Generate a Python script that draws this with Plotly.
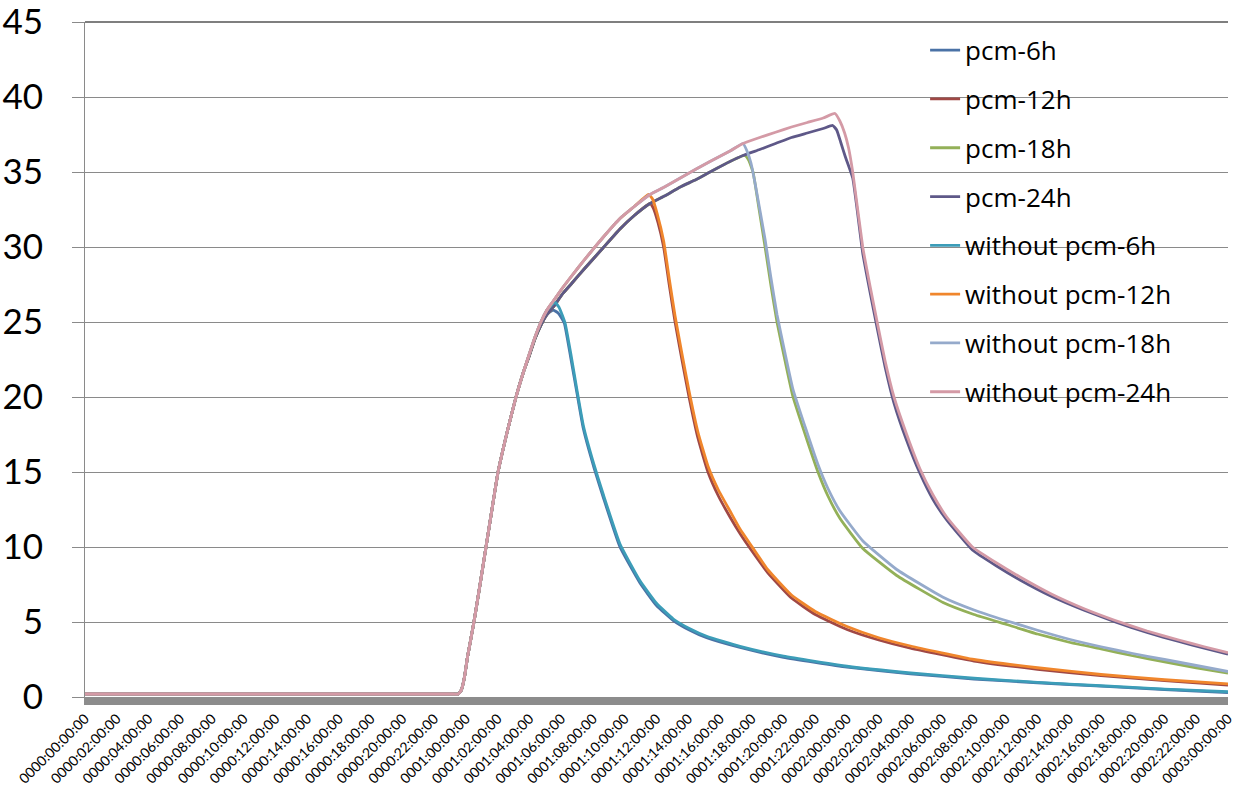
import plotly.graph_objects as go

# ---------------- data (hours from start, temperature values) ----------------
# common heating rise
rise_t = [0, 6, 12, 18, 22.5, 23.2, 23.5, 23.7, 23.9, 24.1, 24.5, 24.9, 25.26, 25.65, 26.02, 26.6, 27.15, 27.6, 28.0, 28.35, 28.72, 29.1]
rise_wo = [0.2, 0.2, 0.2, 0.2, 0.2, 0.2, 0.2, 0.45, 1.3, 2.7, 5.0, 7.6, 10.0, 12.6, 15.0, 17.7, 20.0, 21.6, 22.9, 24.0, 25.0, 25.8]
rise_pcm = [0.2, 0.2, 0.2, 0.2, 0.2, 0.2, 0.2, 0.45, 1.3, 2.7, 5.0, 7.6, 10.0, 12.6, 15.0, 17.7, 20.0, 21.6, 22.8, 23.9, 24.8, 25.5]

# continued heating (upper envelope) for the longer runs
heat_t = [29.5, 30.1, 30.68, 31.5, 32.6, 33.7, 34.6, 35.59, 36.5, 37.5, 38.5, 39.37, 40.63, 41.45, 42.5, 43.5, 44.5, 45.5, 46.5]
heat_wo = [26.4, 27.3, 28.1, 29.2, 30.6, 31.9, 32.7, 33.5, 34.0, 34.6, 35.2, 35.7, 36.4, 36.9, 37.3, 37.65, 38.0, 38.3, 38.6]
heat_pcm = [26.0, 26.9, 27.6, 28.6, 29.9, 31.2, 32.1, 32.9, 33.4, 34.0, 34.5, 35.0, 35.7, 36.1, 36.5, 36.9, 37.3, 37.6, 37.9]

# 6 h runs
pcm6_t = rise_t + [29.48, 29.8, 30.0, 30.2, 30.6, 31.0, 31.39, 32.06, 32.65, 33.7, 34.96, 36.0, 37.06, 38.1, 39.16, 41.26, 44, 48, 52, 56, 60, 64, 68, 72]
pcm6_y = rise_pcm + [25.8, 25.6, 25.3, 24.9, 22.6, 20.2, 17.9, 15.3, 13.3, 10.0, 7.6, 6.1, 5.1, 4.45, 3.95, 3.3, 2.65, 2.0, 1.55, 1.2, 0.95, 0.72, 0.5, 0.3]
wo6_t = rise_t + [29.6, 29.85, 30.05, 30.25, 30.6, 31.0, 31.39, 32.06, 32.65, 33.7, 34.96, 36.0, 37.06, 38.1, 39.16, 41.26, 44, 48, 52, 56, 60, 64, 68, 72]
wo6_y = rise_wo + [26.3, 26.0, 25.5, 24.9, 22.9, 20.4, 18.1, 15.5, 13.5, 10.2, 7.75, 6.25, 5.2, 4.55, 4.05, 3.38, 2.72, 2.05, 1.6, 1.25, 0.98, 0.75, 0.53, 0.35]

# 12 h runs
pcm12_t = rise_t + heat_t[:7] + [35.59, 35.8, 36.1, 36.45, 36.8, 37.17, 37.6, 38.05, 38.6, 39.24, 39.9, 40.63, 41.26, 41.9, 43.0, 44.5, 46.0, 48, 50, 52, 56, 60, 64, 68, 72]
pcm12_y = rise_pcm + heat_pcm[:7] + [32.9, 32.6, 31.6, 30.0, 27.5, 25.0, 22.5, 20.0, 17.3, 15.0, 13.4, 12.0, 10.9, 9.9, 8.3, 6.6, 5.5, 4.5, 3.8, 3.25, 2.4, 1.85, 1.42, 1.1, 0.8]
wo12_t = rise_t + heat_t[:7] + [35.5, 35.75, 36.05, 36.45, 36.8, 37.17, 37.6, 38.05, 38.6, 39.24, 39.9, 40.63, 41.26, 41.9, 43.0, 44.5, 46.0, 48, 50, 52, 56, 60, 64, 68, 72]
wo12_y = rise_wo + heat_wo[:7] + [33.5, 33.2, 32.2, 30.4, 27.9, 25.4, 22.9, 20.4, 17.7, 15.4, 13.8, 12.4, 11.2, 10.2, 8.5, 6.8, 5.7, 4.7, 3.95, 3.4, 2.5, 1.95, 1.5, 1.15, 0.87]

# 18 h runs
pcm18_t = rise_t + heat_t[:13] + [41.55, 41.8, 42.08, 42.45, 42.84, 43.2, 43.59, 44.1, 44.6, 45.46, 46.17, 46.8, 47.56, 49.0, 51.13, 54.05, 56, 58, 60, 62, 64, 66, 68, 70, 72]
pcm18_y = rise_pcm + heat_pcm[:13] + [36.1, 35.8, 35.0, 32.6, 30.0, 27.5, 25.0, 22.4, 20.0, 17.2, 15.0, 13.4, 11.9, 9.9, 8.1, 6.3, 5.5, 4.85, 4.2, 3.65, 3.2, 2.75, 2.35, 1.95, 1.6]
wo18_t = rise_t + heat_t[:14] + [41.7, 41.95, 42.2, 42.84, 43.2, 43.59, 44.1, 44.6, 45.46, 46.17, 46.8, 47.56, 49.0, 51.13, 54.05, 56, 58, 60, 62, 64, 66, 68, 70, 72]
wo18_y = rise_wo + heat_wo[:14] + [36.4, 35.6, 34.3, 30.5, 28.0, 25.5, 22.9, 20.5, 17.7, 15.5, 13.9, 12.4, 10.4, 8.5, 6.65, 5.8, 5.1, 4.45, 3.85, 3.35, 2.9, 2.5, 2.1, 1.7]

# 24 h runs
pcm24_t = rise_t + heat_t + [47.1, 47.35, 47.6, 47.9, 48.36, 48.99, 49.45, 49.9, 50.4, 50.96, 51.76, 52.6, 53.4, 54.28, 55.9, 57.4, 58.9, 60.9, 62.9, 64.9, 66.9, 68.9, 70.5, 72]
pcm24_y = rise_pcm + heat_pcm + [38.1, 37.8, 37.0, 36.0, 34.6, 29.6, 27.0, 24.6, 22.0, 19.6, 17.1, 14.9, 13.2, 11.8, 9.8, 8.75, 7.8, 6.7, 5.8, 5.0, 4.3, 3.7, 3.25, 2.85]
wo24_t = rise_t + heat_t + [47.24, 47.55, 47.85, 48.1, 48.36, 48.99, 49.45, 49.9, 50.4, 50.96, 51.76, 52.6, 53.4, 54.28, 55.9, 57.4, 58.9, 60.9, 62.9, 64.9, 66.9, 68.9, 70.5, 72]
wo24_y = rise_wo + heat_wo + [38.9, 38.4, 37.6, 36.6, 35.0, 30.0, 27.4, 25.0, 22.4, 20.0, 17.5, 15.2, 13.5, 12.0, 10.0, 8.95, 8.0, 6.85, 5.9, 5.1, 4.4, 3.8, 3.35, 2.95]

series_names = ["pcm-6h", "pcm-12h", "pcm-18h", "pcm-24h",
                "without pcm-6h", "without pcm-12h", "without pcm-18h", "without pcm-24h"]
series_t = [pcm6_t, pcm12_t, pcm18_t, pcm24_t, wo6_t, wo12_t, wo18_t, wo24_t]
series_y = [pcm6_y, pcm12_y, pcm18_y, pcm24_y, wo6_y, wo12_y, wo18_y, wo24_y]
colors = ["#4A72A6", "#A04845", "#93B058", "#5E5888",
          "#3C9DB8", "#F0862C", "#95AACB", "#D49AA6"]

tick_hours = list(range(0, 73, 2))
tick_labels = ["%04d:%02d:00:00" % (h // 24, h % 24) for h in tick_hours]
y_ticks = [0, 5, 10, 15, 20, 25, 30, 35, 40, 45]

# ---------------- figure ----------------
fig = go.Figure()
for name, t, y, c in zip(series_names, series_t, series_y, colors):
    fig.add_trace(go.Scatter(
        x=t, y=y, name=name, mode="lines",
        line=dict(color=c, width=2.8, shape="spline", smoothing=0.4),
        legendgroup=name,
    ))

fig.update_layout(
    width=1246, height=802,
    margin=dict(l=85, r=18, t=22, b=105, autoexpand=False),
    paper_bgcolor="white", plot_bgcolor="white",
    font=dict(family="Lato, Noto Sans, sans-serif", color="black"),
    showlegend=True,
    legend=dict(
        x=0.735, y=0.993, xanchor="left", yanchor="top",
        bgcolor="rgba(0,0,0,0)", borderwidth=0,
        font=dict(size=26, color="black", family="Open Sans, Noto Sans, sans-serif"),
        tracegroupgap=12,
    ),
    xaxis=dict(
        range=[0, 72], tickmode="array", tickvals=tick_hours, ticktext=tick_labels,
        tickangle=-45, tickfont=dict(size=14, color="black"),
        showgrid=False, zeroline=False, automargin=False,
        showline=True, linecolor="#8C8C8C", linewidth=8,
        ticks="",
    ),
    yaxis=dict(
        range=[0, 45], tickmode="array", tickvals=y_ticks,
        tickfont=dict(size=35, color="black"),
        showgrid=True, gridcolor="#8A8A8A", gridwidth=1,
        zeroline=False, automargin=False,
        showline=True, linecolor="#8A8A8A", linewidth=1,
        ticks="outside", ticklen=12, tickcolor="#8A8A8A",
        ticklabelstandoff=22, ticklabeloverflow="allow",
    ),
)
fig.add_shape(type="line", xref="paper", yref="paper", x0=0, x1=1, y0=1, y1=1,
              line=dict(color="black", width=1.2))

fig.write_html("out.html")
